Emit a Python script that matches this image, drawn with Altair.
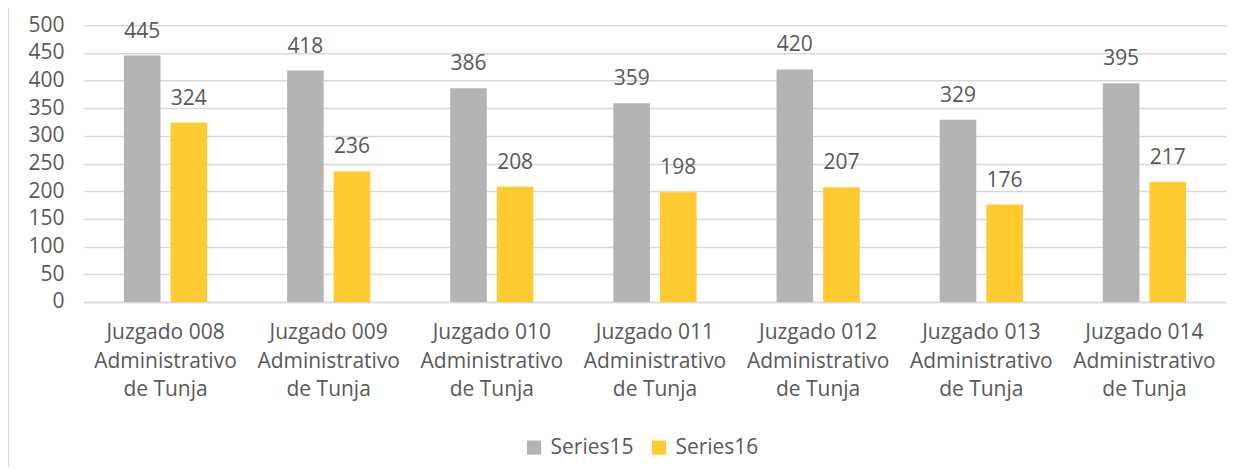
import altair as alt
import pandas as pd

categories = [
    "Juzgado 008\nAdministrativo\nde Tunja",
    "Juzgado 009\nAdministrativo\nde Tunja",
    "Juzgado 010\nAdministrativo\nde Tunja",
    "Juzgado 011\nAdministrativo\nde Tunja",
    "Juzgado 012\nAdministrativo\nde Tunja",
    "Juzgado 013\nAdministrativo\nde Tunja",
    "Juzgado 014\nAdministrativo\nde Tunja",
]
series15 = [445, 418, 386, 359, 420, 329, 395]
series16 = [324, 236, 208, 198, 207, 176, 217]
series_names = ["Series15", "Series16"]
colors = ["#B4B4B4", "#FFCA30"]

rows = []
for c, a, b in zip(categories, series15, series16):
    rows.append({"cat": c, "series": "Series15", "value": a})
    rows.append({"cat": c, "series": "Series16", "value": b})
df = pd.DataFrame(rows)

FONT = "Open Sans"
TXT = "#595959"
FS = 21

x_enc = alt.X(
    "cat:N", sort=categories, title=None,
    scale=alt.Scale(paddingInner=0.49, paddingOuter=0.245),
    axis=alt.Axis(labelExpr="split(datum.label, '\\n')", labelAngle=0,
                  labelFont=FONT, labelFontSize=FS, labelColor=TXT,
                  labelLineHeight=28.5, labelPadding=20, ticks=False,
                  domainColor="#D9D9D9", domainWidth=1.5, grid=False),
)
xoff = alt.XOffset("series:N", sort=series_names,
                   scale=alt.Scale(paddingInner=0.215, paddingOuter=0))
y_enc = alt.Y(
    "value:Q", title=None,
    scale=alt.Scale(domain=[0, 500], nice=False),
    axis=alt.Axis(values=list(range(0, 501, 50)), labelFont=FONT, labelFontSize=FS,
                  labelColor=TXT, labelPadding=20, ticks=False, domain=False,
                  labelOverlap=False, gridColor="#D9D9D9", gridWidth=1.5),
)

base = alt.Chart(df).encode(x=x_enc, xOffset=xoff, y=y_enc)

bars = base.mark_bar().encode(
    color=alt.Color("series:N", sort=series_names,
                    scale=alt.Scale(domain=series_names, range=colors),
                    legend=alt.Legend(title=None, orient="none", direction="horizontal",
                                      legendX=440, legendY=412, symbolType="square",
                                      symbolSize=200, symbolStrokeWidth=0,
                                      labelFont=FONT, labelFontSize=FS, labelColor=TXT,
                                      columnPadding=14, padding=0, labelOffset=6)),
)

labels = base.mark_text(
    baseline="alphabetic", dy=-18, font=FONT, fontSize=FS, color=TXT
).encode(text=alt.Text("value:Q"))

border = alt.Chart(df).mark_rule(color="#D9D9D9", strokeWidth=2).encode(
    x=alt.value(-76), y=alt.value(-30), y2=alt.value(470)
)

chart = alt.layer(bars, labels, border).properties(
    width=1143, height=277,
    view=alt.ViewBackground(strokeWidth=0, stroke="transparent"),
    autosize=alt.AutoSizeParams(type="none"),
    padding={"left": 76, "top": 17, "right": 10, "bottom": 165},
).configure_view(strokeWidth=0, stroke="transparent").configure(background="white")

chart.save("out.html", embed_options={"renderer": "svg", "actions": False})
